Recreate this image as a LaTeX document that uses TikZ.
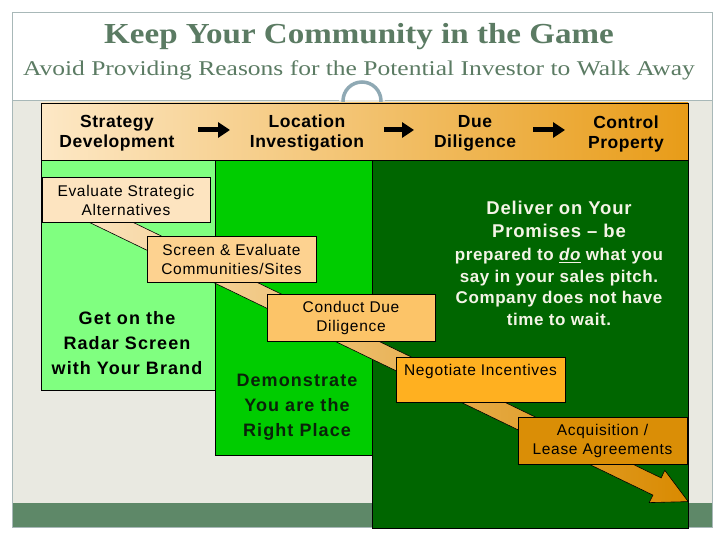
\documentclass[tikz,border=0pt]{standalone}
\usepackage{fontspec}
\usepackage{graphicx}
\setmainfont{Liberation Sans}
\newfontfamily\serifttl{Liberation Serif}
\usetikzlibrary{arrows.meta}
\definecolor{titlec}{HTML}{5B7B63}
\definecolor{panelbg}{HTML}{E9E9E1}
\definecolor{bandc}{HTML}{5E8868}
\definecolor{framec}{HTML}{A8B8B8}
\definecolor{ringc}{HTML}{8FA9B4}
\definecolor{hdl}{HTML}{FDE8C6}
\definecolor{hdr}{HTML}{E89C18}
\definecolor{lgreen}{HTML}{80FF80}
\definecolor{mgreen}{HTML}{00CC00}
\definecolor{dgreen}{HTML}{006600}
\definecolor{boxa}{HTML}{FDE4C0}
\definecolor{boxb}{HTML}{FDD290}
\definecolor{boxc}{HTML}{FCC468}
\definecolor{boxd}{HTML}{FFB020}
\definecolor{boxe}{HTML}{DA8E06}
\definecolor{arrl}{HTML}{FCE6C4}
\definecolor{arrr}{HTML}{D98A00}
\definecolor{democ}{HTML}{0A220A}
\definecolor{delc}{HTML}{F4F4E6}
\begin{document}
\begin{tikzpicture}[x=1pt,y=-1pt,
  hdrtext/.style={align=center,inner sep=0pt,
    font=\bfseries\fontsize{17.5}{20}\selectfont\addfontfeature{LetterSpace=3}},
  hdrarrow/.style={line width=5pt,-{Triangle[length=12pt,width=15pt]}},
  stepbox/.style={draw=black,line width=0.6pt,align=center,inner sep=0pt,
    font=\fontsize{15.5}{19}\selectfont\addfontfeature{LetterSpace=4.5}},
  coltext/.style={align=center,inner sep=0pt,
    font=\bfseries\fontsize{18}{25}\selectfont\addfontfeature{LetterSpace=6}}]
\useasboundingbox (0,0) rectangle (720,540);
\fill[white] (0,0) rectangle (720,540);
\fill[panelbg] (12,100) rectangle (712,503);
\fill[bandc] (12,503) rectangle (712,527);
\draw[framec,line width=0.8pt] (12,12) rectangle (712,527);
\draw[framec,line width=0.8pt] (12,100) -- (339,100) (385,100) -- (712,100);
\draw[ringc,line width=3.5pt] (362,101) circle[radius=19pt];
% titles
\node[titlec,inner sep=0pt,font=\serifttl\bfseries\fontsize{29}{34}\selectfont] (title) at (359,37)
  {\scalebox{1.14}[1]{Keep Your Community in the Game}};
\node[titlec,inner sep=0pt,font=\serifttl\fontsize{21}{25}\selectfont] (subtitle) at (359,70)
  {\scalebox{1.215}[1]{Avoid Providing Reasons for the Potential Investor to Walk Away}};
% columns
\draw[fill=lgreen,line width=0.6pt] (41,160) rectangle (215,390);
\draw[fill=mgreen,line width=0.6pt] (215,160) rectangle (372,455);
\draw[fill=dgreen,line width=0.6pt] (372,160) rectangle (688,528);
% header bar
\shade[left color=hdl,right color=hdr,draw=black,line width=0.6pt] (41,103) rectangle (688,160);
\node[hdrtext] (sd) at (117,133.5) {Strategy\\Development};
\node[hdrtext] (li) at (307,133.5) {Location\\Investigation};
\node[hdrtext] (dd) at (475,133.5) {Due\\Diligence};
\node[hdrtext] (cp) at (626,133.5) {Control\\Property};
\coordinate (a1s) at (198,130); \coordinate (a1e) at (230,130);
\coordinate (a2s) at (384,130); \coordinate (a2e) at (414,130);
\coordinate (a3s) at (533,130); \coordinate (a3e) at (565,130);
\draw[hdrarrow] (a1s) -- (a1e);
\draw[hdrarrow] (a2s) -- (a2e);
\draw[hdrarrow] (a3s) -- (a3e);
% big diagonal arrow
\shade[left color=arrl,right color=arrr,draw=black,line width=0.6pt]
  (69.1,191.4) -- (661.1,477.9) -- (664.8,470.4) -- (688.2,501.6)
  -- (649.2,502.6) -- (652.9,495.1) -- (60.9,208.6) -- cycle;
% column texts
\node[coltext] (radar) at (127,343) {Get on the\\Radar Screen\\with Your Brand};
\node[coltext,democ] (demo) at (297,407) {Demonstrate\\You are the\\Right Place};
\node[align=center,delc,inner sep=0pt,font=\bfseries\fontsize{18.5}{23}\selectfont\addfontfeature{LetterSpace=4.5}] (deliver) at (559,219) {Deliver on Your\\Promises -- be};
\node[align=center,delc,inner sep=0pt,font=\bfseries\fontsize{17}{21.5}\selectfont\addfontfeature{LetterSpace=3.5}] (prep) at (559,287) {prepared to \underline{\itshape do} what you\\say in your sales pitch.\\Company does not have\\time to wait.};
% step boxes
\node[stepbox,fill=boxa,minimum width=168pt,minimum height=45pt] (b1) at (126,200) {Evaluate Strategic\\Alternatives};
\node[stepbox,fill=boxb,minimum width=169pt,minimum height=46pt] (b2) at (231.5,259) {Screen \& Evaluate\\Communities/Sites};
\node[stepbox,fill=boxc,minimum width=168pt,minimum height=47pt] (b3) at (351,317.5) {Conduct Due\\Diligence};
\node[stepbox,fill=boxd,minimum width=169pt,minimum height=45pt] (b4) at (480.5,379.5) {Negotiate Incentives\\\mbox{}};
\node[stepbox,fill=boxe,minimum width=169pt,minimum height=47pt] (b5) at (602.5,440.5) {Acquisition /\\Lease Agreements};
\end{tikzpicture}
\end{document}
